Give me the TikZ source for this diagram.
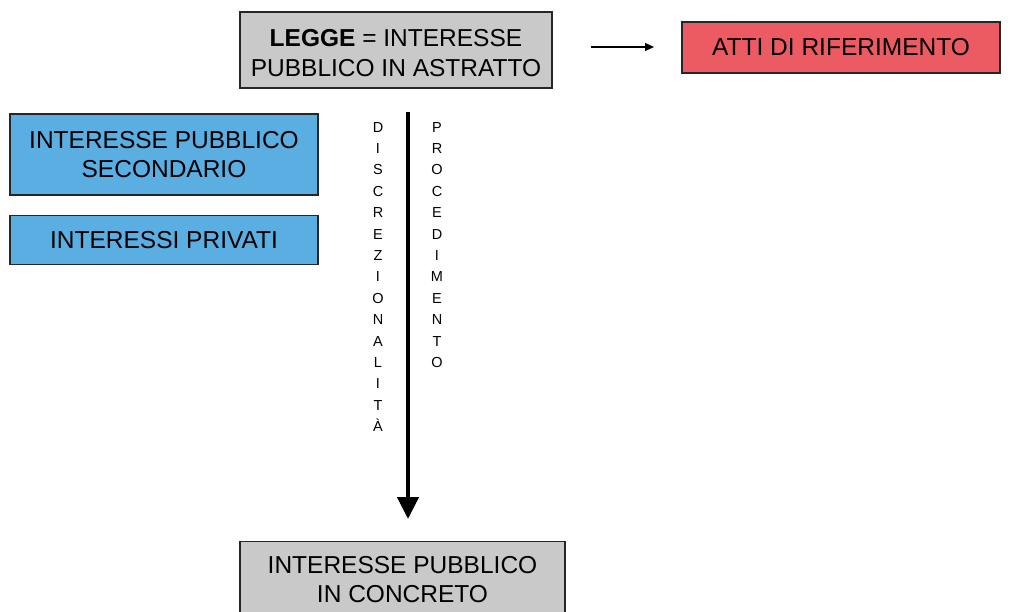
\documentclass[tikz,border=0pt]{standalone}
\usepackage{fontspec}
\setmainfont{Liberation Sans}
\usetikzlibrary{arrows.meta}
\definecolor{boxgray}{HTML}{C9C9C9}
\definecolor{boxred}{HTML}{EC5B62}
\definecolor{boxblue}{HTML}{5AAEE2}
\begin{document}
\begin{tikzpicture}[x=1pt,y=-1pt,
  box/.style={draw=black!85, line width=1.2pt, align=center, inner sep=0pt, font=\fontsize{24.5}{28.5}\selectfont},
  vletters/.style={align=center, font=\fontsize{14.5}{21.4}\selectfont, inner sep=0pt, anchor=north}]
\useasboundingbox (0,0) rectangle (1011,612);
\node[box, fill=boxgray, minimum width=312pt, minimum height=76pt] (legge) at (396,50) {};
\node[font=\fontsize{24.5}{29.5}\selectfont, align=center, inner sep=0pt] (leggetext) at (396,53) {\textbf{LEGGE} = INTERESSE\\PUBBLICO IN ASTRATTO};
\node[box, fill=boxred, minimum width=318pt, minimum height=51pt] (atti) at (841,47.5) {ATTI DI RIFERIMENTO};
\node[box, fill=boxblue, minimum width=308pt, minimum height=81pt] (sec) at (164,154.5) {INTERESSE PUBBLICO\\SECONDARIO};
\node[box, fill=boxblue, minimum width=308pt, minimum height=49pt] (priv) at (164,240) {INTERESSI PRIVATI};
\node[box, fill=boxgray, minimum width=325pt, minimum height=80pt, anchor=north] (conc) at (402.5,541) {};
\node[font=\fontsize{24.5}{29}\selectfont, align=center] (conctext) at (402.5,580) {INTERESSE PUBBLICO\\IN CONCRETO};
\coordinate (arrS) at (591,47);
\coordinate (arrE) at (654,47);
\draw[line width=1.2pt, -{Triangle[length=9pt,width=8pt]}] (arrS) -- (arrE);
\coordinate (vS) at (408,112);
\coordinate (vE) at (408,519);
\draw[line width=4.5pt, -{Triangle[length=22pt,width=21pt]}] (vS) -- (vE);
\node[vletters] (disc) at (378,122) {D\\I\\S\\C\\R\\E\\Z\\I\\O\\N\\A\\L\\I\\T\\À};
\node[vletters] (proc) at (437,122) {P\\R\\O\\C\\E\\D\\I\\M\\E\\N\\T\\O};
\end{tikzpicture}
\end{document}
